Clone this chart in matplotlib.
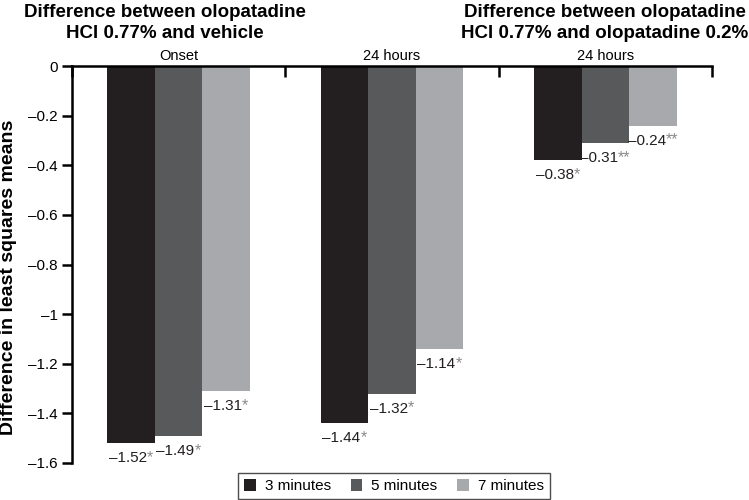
import matplotlib
matplotlib.use("Agg")
import matplotlib.pyplot as plt
from matplotlib.transforms import IdentityTransform
import numpy as np

plt.rcParams['font.family'] = ['Liberation Sans', 'DejaVu Sans']

# datos
grupos = ['Onset', '24 hours', '24 hours']
series = ['3 minutes', '5 minutes', '7 minutes']
valores_3min = [-1.52, -1.44, -0.38]
valores_5min = [-1.49, -1.32, -0.31]
valores_7min = [-1.31, -1.14, -0.24]
asteriscos_3min = ['*', '*', '*']
asteriscos_5min = ['*', '*', '**']
asteriscos_7min = ['*', '*', '**']
y_ticks = [0, -0.2, -0.4, -0.6, -0.8, -1, -1.2, -1.4, -1.6]
titulo_izq = 'Difference between olopatadine\nHCl 0.77% and vehicle'
titulo_der = 'Difference between olopatadine\nHCl 0.77% and olopatadine 0.2%'
colores = ['#231f20', '#58595b', '#a7a9ac']

fig = plt.figure(figsize=(7.49, 5.0), dpi=100)
ax = fig.add_axes([72 / 749, 1 - 463 / 500, 640 / 749, 397 / 500])

x = np.arange(len(grupos))
ancho = 0.223
todos = [valores_3min, valores_5min, valores_7min]
ast = [asteriscos_3min, asteriscos_5min, asteriscos_7min]

etiquetas = []
for i, (vals, col, nombre) in enumerate(zip(todos, colores, series)):
    pos = x + (i - 1) * ancho
    ax.bar(pos, vals, width=ancho, color=col, label=nombre, zorder=2)
    for xp, v, a in zip(pos, vals, ast[i]):
        tn = fig.text(0, 0, f'\u2013{abs(v):.2f}', ha='left', va='top',
                      fontsize=11, color='#231f20')
        ts = fig.text(0, 0, a, ha='left', va='top', fontsize=11.5, color='#8a8a8a')
        etiquetas.append((tn, ts, xp, v))

ax.set_xlim(-0.5, 2.5)
ax.set_ylim(-1.6, 0)

# eje x arriba
ax.spines['bottom'].set_visible(False)
ax.spines['right'].set_visible(False)
ax.spines['top'].set_linewidth(1.8)
ax.spines['left'].set_linewidth(1.8)
ax.xaxis.tick_top()
ax.set_xticks([-0.5, 0.5, 1.5, 2.5])
ax.set_xticklabels([])
ax.tick_params(axis='x', direction='in', length=8, width=1.8)

ax.set_yticks(y_ticks)
ax.set_yticklabels(['0' if t == 0 else '\u2013' + f'{abs(t):g}' for t in y_ticks],
                   fontsize=11)
ax.tick_params(axis='y', direction='out', length=7, width=1.8, pad=3)

fig.text(9 / 749, 1 - 277 / 500, 'Difference in least squares means',
         rotation=90, ha='center', va='center', fontsize=14, fontweight='bold')

for xi, g in zip(x, grupos):
    ax.text(xi, 1.008, g, transform=ax.get_xaxis_transform(), ha='center',
            va='bottom', fontsize=10.5)

fig.text(165 / 749, 0.992, titulo_izq, ha='center', va='top', fontsize=13.5,
         fontweight='bold', linespacing=1.3)
fig.text(605 / 749, 0.992, titulo_der, ha='center', va='top', fontsize=13.5,
         fontweight='bold', linespacing=1.3, multialignment='center')

leg = fig.legend(loc='lower center', bbox_to_anchor=(394 / 749, -0.014), ncol=3,
                 fontsize=11, frameon=True, fancybox=False, edgecolor='#231f20',
                 handlelength=0.75, handleheight=0.75, columnspacing=1.3,
                 handletextpad=0.6, borderpad=0.4)
leg.get_frame().set_linewidth(1.0)

# centrar número + asterisco bajo cada barra
fig.canvas.draw()
rend = fig.canvas.get_renderer()
for tn, ts, xp, v in etiquetas:
    wn = tn.get_window_extent(rend).width
    ws = ts.get_window_extent(rend).width
    px, py = ax.transData.transform((xp, v))
    izq = px - (wn + ws) / 2
    tn.set_transform(IdentityTransform())
    ts.set_transform(IdentityTransform())
    tn.set_position((izq, py - 8))
    ts.set_position((izq + wn, py - 7))

fig.savefig('out.png', dpi=100)
